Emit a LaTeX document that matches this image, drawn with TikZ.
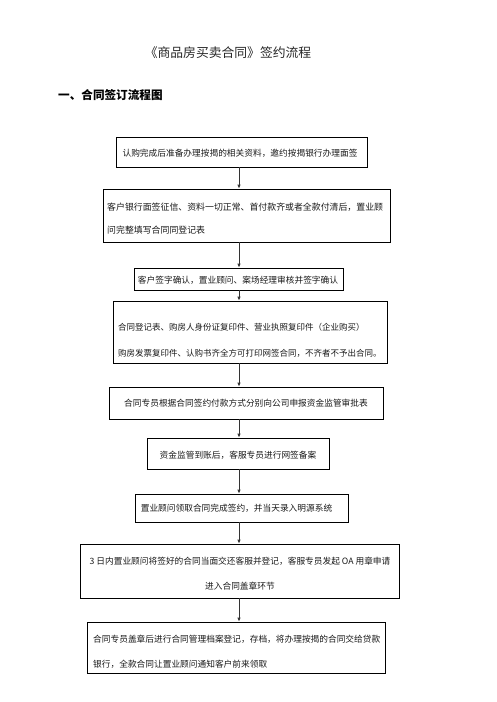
\documentclass[tikz,border=0pt]{standalone}
\usepackage{fontspec}
\setmainfont{Noto Sans CJK SC}
\newfontfamily\cjk{Noto Sans CJK SC}
\usetikzlibrary{arrows.meta}
\tikzset{
  box/.style={draw=black, line width=0.8pt, rectangle, inner sep=0pt},
  txt/.style={inner sep=0pt, font=\cjk\fontsize{8.7}{10}\selectfont, text=black!90},
  arr/.style={draw=black!80, line width=0.9pt, -{Latex[length=4pt,width=3.6pt]}},
}
\begin{document}
\begin{tikzpicture}[x=1pt,y=-1pt]
\useasboundingbox (0,0) rectangle (496,702);
% title and heading
\node[inner sep=0pt, font=\cjk\fontsize{12.8}{14}\selectfont, text=black!85] (title) at (228,53) {《商品房买卖合同》签约流程};
\node[inner sep=0pt, anchor=west, font=\cjk\bfseries\fontsize{11.6}{13}\selectfont] (head) at (58,95) {一、合同签订流程图};
% boxes
\node[box, minimum width=251pt, minimum height=30pt] (b1) at (241.5,152) {};
\node[box, minimum width=287pt, minimum height=53pt] (b2) at (246.5,215.5) {};
\node[box, minimum width=209pt, minimum height=22pt] (b3) at (238.5,279) {};
\node[box, minimum width=274pt, minimum height=62pt] (b4) at (250,332) {};
\node[box, minimum width=274pt, minimum height=32pt] (b5) at (246,403) {};
\node[box, minimum width=182pt, minimum height=31pt] (b6) at (238,453.5) {};
\node[box, minimum width=213pt, minimum height=28pt] (b7) at (241.5,508) {};
\node[box, minimum width=319pt, minimum height=54pt] (b8) at (240,571) {};
\node[box, minimum width=298pt, minimum height=51pt] (b9) at (236,647.5) {};
% texts
\node[txt] (t1) at (240,153) {认购完成后准备办理按揭的相关资料，邀约按揭银行办理面签};
\node[txt, anchor=west, align=left, font=\cjk\fontsize{8.9}{23}\selectfont] (t2) at (107,218.5) {客户银行面签征信、资料一切正常、首付款齐或者全款付清后，置业顾\\问完整填写合同同登记表};
\node[txt] (t3) at (238,280) {客户签字确认，置业顾问、案场经理审核并签字确认};
\node[txt, anchor=west, align=left, font=\cjk\fontsize{8.5}{26}\selectfont] (t4) at (118,340) {合同登记表、购房人身份证复印件、营业执照复印件（企业购买）\\购房发票复印件、认购书齐全方可打印网签合同，不齐者不予出合同。};
\node[txt] (t5) at (246,403) {合同专员根据合同签约付款方式分别向公司申报资金监管审批表};
\node[txt] (t6) at (238,455) {资金监管到账后，客服专员进行网签备案};
\node[txt] (t7) at (236.5,508) {置业顾问领取合同完成签约，并当天录入明源系统};
\node[txt, align=center, font=\cjk\fontsize{8.7}{25}\selectfont] (t8) at (240,573.5) {3 日内置业顾问将签好的合同当面交还客服并登记，客服专员发起 OA 用章申请\\进入合同盖章环节};
\node[txt, anchor=west, align=left, font=\cjk\fontsize{8.7}{25}\selectfont] (t9) at (93,651.5) {合同专员盖章后进行合同管理档案登记，存档，将办理按揭的合同交给贷款\\银行，全款合同让置业顾问通知客户前来领取};
% connectors
\draw[arr] (b1.south -| 239,0) -- (b2.north -| 239,0);
\draw[arr] (b2.south -| 239,0) -- (b3.north -| 239,0);
\draw[arr] (b3.south -| 239,0) -- (b4.north -| 239,0);
\draw[arr] (b4.south -| 239,0) -- (b5.north -| 239,0);
\draw[arr] (b5.south -| 239,0) -- (b6.north -| 239,0);
\draw[arr] (b6.south -| 239,0) -- (b7.north -| 239,0);
\draw[arr] (b7.south -| 239,0) -- (b8.north -| 239,0);
\draw[arr] (b8.south -| 239,0) -- (b9.north -| 239,0);
\end{tikzpicture}
\end{document}
